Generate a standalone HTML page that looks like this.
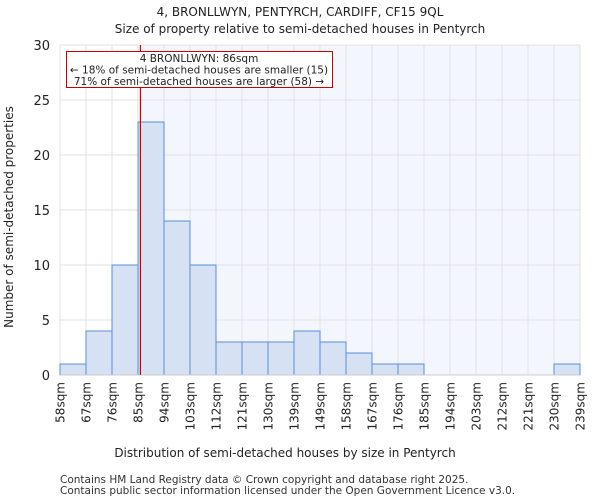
<!DOCTYPE html>
<html><head><meta charset="utf-8"><style>
html,body{margin:0;padding:0;background:#fff;}
svg{display:block;font-family:"DejaVu Sans","Liberation Sans",sans-serif;}
</style></head><body>
<svg id="chart" width="600" height="500" viewBox="0 0 600 500">
<text x="300" y="16" text-anchor="middle" font-size="12" fill="#222">4, BRONLLWYN, PENTYRCH, CARDIFF, CF15 9QL</text>
<text x="300" y="33" text-anchor="middle" font-size="12" fill="#222">Size of property relative to semi-detached houses in Pentyrch</text>
<g id="plot"></g>
<text x="285" y="457" text-anchor="middle" font-size="12" fill="#222">Distribution of semi-detached houses by size in Pentyrch</text>
<text transform="translate(13,217) rotate(-90)" text-anchor="middle" font-size="12" fill="#222">Number of semi-detached properties</text>
<text x="60" y="483" font-size="10.5" fill="#333">Contains HM Land Registry data © Crown copyright and database right 2025.</text>
<text x="60" y="494" font-size="10.5" fill="#333">Contains public sector information licensed under the Open Government Licence v3.0.</text>
</svg>
<script>
const binLabels = ["58sqm","67sqm","76sqm","85sqm","94sqm","103sqm","112sqm","121sqm","130sqm","139sqm","149sqm","158sqm","167sqm","176sqm","185sqm","194sqm","203sqm","212sqm","221sqm","230sqm","239sqm"];
const counts = [1,4,10,23,14,10,3,3,3,4,3,2,1,1,0,0,0,0,0,1];
const yTicks = [0,5,10,15,20,25,30];
const xMin = 58, xMax = 239, yMax = 30;
const propertySize = 86;
const annotation = ["4 BRONLLWYN: 86sqm","← 18% of semi-detached houses are smaller (15)","71% of semi-detached houses are larger (58) →"];

const L=60,R=580,T=45,B=375;
const ns="http://www.w3.org/2000/svg";
const g=document.getElementById('plot');
function xs(v){return L+(v-xMin)/(xMax-xMin)*(R-L);}
function xb(i){return L+i*(R-L)/counts.length;}
function ys(v){return B-v/yMax*(B-T);}
function mk(tag,attrs){const e=document.createElementNS(ns,tag);for(const k in attrs)e.setAttribute(k,attrs[k]);g.appendChild(e);return e;}

const px=xs(propertySize);
let e=mk('rect',{x:px,y:T,width:R-px,height:B-T,fill:'#f3f6fc'});


for(let i=0;i<=counts.length;i++){
  e=mk('line',{x1:xb(i),x2:xb(i),y1:T,y2:B,stroke:'#e2e2e2','stroke-width':1});
  
  
}
yTicks.forEach(t=>{
  e=mk('line',{x1:L,x2:R,y1:ys(t),y2:ys(t),stroke:'#e2e2e2','stroke-width':1});
  
  
  e=mk('text',{x:L-10,y:ys(t)+5,'text-anchor':'end','font-size':13,fill:'#222'});
  e.textContent=t;
  
  
});
counts.forEach((c,i)=>{
  if(c<=0)return;
  e=mk('rect',{x:xb(i),y:ys(c),width:xb(i+1)-xb(i),height:B-ys(c),fill:'#d6e1f3',stroke:'#5b8fd6','stroke-width':1});
  
  
});
e=mk('line',{x1:L,x2:R,y1:B,y2:B,stroke:'#ccc','stroke-width':1});


binLabels.forEach((lab,i)=>{
  const x=xb(i);
  e=mk('text',{transform:`translate(${x+4.5},382) rotate(-90)`,'text-anchor':'end','font-size':12,fill:'#222'});
  e.textContent=lab;
  
  
});
e=mk('line',{x1:px,x2:px,y1:T,y2:B,stroke:'#cc0000','stroke-width':1.2});


e=mk('rect',{x:66.5,y:51.5,width:266,height:36,fill:'#fff',stroke:'#cc0000','stroke-width':1});


annotation.forEach((s,i)=>{
  e=mk('text',{x:199,y:62+i*11.5,'text-anchor':'middle','font-size':10.5,fill:'#222'});
  e.textContent=s;
  
  
});
</script>
</body></html>
